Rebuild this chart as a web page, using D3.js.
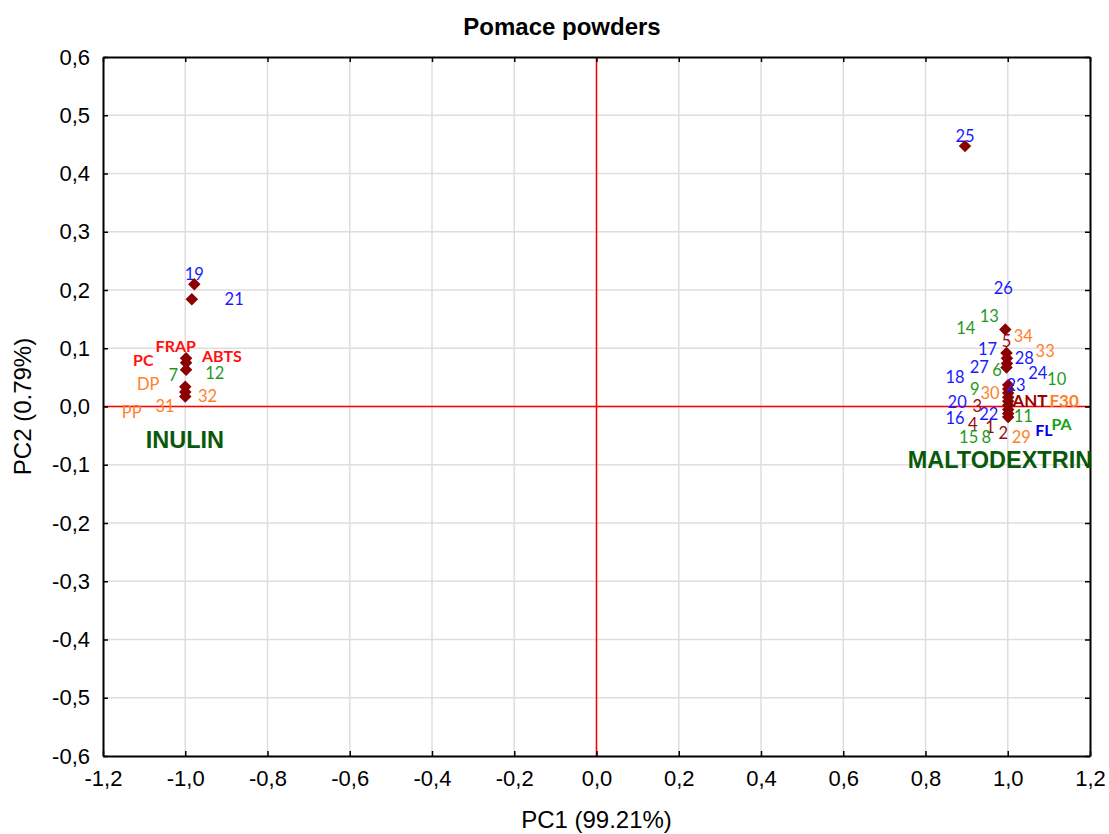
<!DOCTYPE html>
<html>
<head>
<meta charset="utf-8">
<script src="https://cdn.jsdelivr.net/npm/d3@7"></script>
<style>
  html, body { margin: 0; padding: 0; background: #fff; }
  svg { display: block; }
</style>
</head>
<body>
<svg id="chart" width="1109" height="834"></svg>
<script>
// PCA score plot of pomace powders (PC1 vs PC2)

const xTicks = [-1.2, -1.0, -0.8, -0.6, -0.4, -0.2, 0.0, 0.2, 0.4, 0.6, 0.8, 1.0, 1.2];
const yTicks = [-0.6, -0.5, -0.4, -0.3, -0.2, -0.1, 0.0, 0.1, 0.2, 0.3, 0.4, 0.5, 0.6];

// projected observations (diamond markers)
const markerPC1 = [-0.978, -0.984, -0.998, -0.998, -0.998, -1.000, -1.000, -1.000,
                   0.896, 0.994, 0.997, 0.998, 0.998, 0.997,
                   1.001, 1.001, 1.001, 1.001, 1.001, 1.001, 1.001, 1.001, 1.001];
const markerPC2 = [0.210, 0.184, 0.083, 0.075, 0.063, 0.034, 0.025, 0.017,
                   0.447, 0.132, 0.092, 0.083, 0.074, 0.067,
                   0.037, 0.030, 0.023, 0.016, 0.009, 0.002, -0.005, -0.012, -0.018];

// labels: sample numbers, variables and carrier groups
const labelText = ["19", "21", "FRAP", "PC", "ABTS", "7", "12", "DP", "32", "31", "PP", "INULIN",
                   "25", "26", "13", "14", "34", "5", "17", "33", "28", "27", "6", "18", "24", "10",
                   "23", "9", "30", "20", "3", "ANT", "F30", "16", "22", "11", "4", "1", "FL", "PA",
                   "15", "8", "2", "29", "MALTODEXTRIN"];
const labelPC1 = [-0.978, -0.881, -1.023, -1.102, -0.911, -1.029, -0.928, -1.090, -0.946, -1.049, -1.130, -1.001,
                  0.896, 0.989, 0.955, 0.898, 1.038, 0.997, 0.951, 1.091, 1.040, 0.931, 0.974, 0.872, 1.073, 1.119,
                  1.020, 0.920, 0.957, 0.877, 0.926, 1.054, 1.137, 0.872, 0.954, 1.038, 0.915, 0.957, 1.088, 1.131,
                  0.905, 0.948, 0.989, 1.033, 0.981];
const labelPC2 = [0.227, 0.184, 0.104, 0.080, 0.087, 0.054, 0.057, 0.038, 0.018, 0.001, -0.010, -0.057,
                  0.464, 0.204, 0.155, 0.135, 0.121, 0.112, 0.099, 0.095, 0.084, 0.067, 0.063, 0.050, 0.057, 0.047,
                  0.037, 0.030, 0.023, 0.008, 0.001, 0.011, 0.010, -0.019, -0.013, -0.017, -0.030, -0.035, -0.040, -0.030,
                  -0.052, -0.052, -0.046, -0.052, -0.092];
const labelKind = ["blue", "blue", "redB", "redB", "redB", "green", "green", "orange", "orange", "orange", "orange", "group",
                   "blue", "blue", "green", "green", "orange", "dark", "blue", "orange", "blue", "blue", "green", "blue", "blue", "green",
                   "blue", "green", "orange", "blue", "dark", "darkB", "orangeB", "blue", "blue", "green", "dark", "dark", "blueB", "greenB",
                   "green", "green", "dark", "orange", "group"];

const labelFont = "Lato, 'Open Sans', sans-serif";
const kindStyle = {
  blue:    { fill: "#1a1aff", weight: "normal", size: 16.5, family: labelFont },
  green:   { fill: "#1f9a1f", weight: "normal", size: 16.5, family: labelFont },
  orange:  { fill: "#ff7f2a", weight: "normal", size: 16.5, family: labelFont },
  dark:    { fill: "#9a0a0a", weight: "normal", size: 16.5, family: labelFont },
  redB:    { fill: "#ff1010", weight: "bold", size: 16, family: labelFont },
  darkB:   { fill: "#990000", weight: "bold", size: 17, family: labelFont },
  orangeB: { fill: "#ff7f27", weight: "bold", size: 17, family: labelFont },
  blueB:   { fill: "#0000ee", weight: "bold", size: 16, family: labelFont },
  greenB:  { fill: "#1aa01a", weight: "bold", size: 16, family: labelFont },
  group:   { fill: "#0a590a", weight: "bold", size: 23.5, family: "'Liberation Sans', Arial, sans-serif" }
};

const svg = d3.select("#chart");
const margin = { left: 103, right: 19, top: 57, bottom: 78 };
const W = 1109, H = 834;
const x = d3.scaleLinear().domain([-1.2, 1.2]).range([margin.left, W - margin.right]);
const y = d3.scaleLinear().domain([-0.6, 0.6]).range([H - margin.bottom, margin.top]);
const fmt = v => d3.format(".1f")(v).replace(".", ",").replace("−", "-");
const axisFont = "'Liberation Sans', Arial, sans-serif";

// grid
const grid = svg.append("g");
grid.selectAll("line.vx").data(xTicks.slice(1, -1)).join("line")
  .attr("x1", d => x(d)).attr("x2", d => x(d))
  .attr("y1", y(0.6)).attr("y2", y(-0.6))
  .attr("stroke", "#dedede").attr("stroke-width", 1.5);
grid.selectAll("line.hy").data(yTicks.slice(1, -1)).join("line")
  .attr("y1", d => y(d)).attr("y2", d => y(d))
  .attr("x1", x(-1.2)).attr("x2", x(1.2))
  .attr("stroke", "#dedede").attr("stroke-width", 1.5);

// zero reference lines
svg.append("line").attr("x1", x(0)).attr("x2", x(0)).attr("y1", y(0.6)).attr("y2", y(-0.6))
  .attr("stroke", "#ff0000").attr("stroke-width", 1.5);
svg.append("line").attr("x1", x(-1.2)).attr("x2", x(1.2)).attr("y1", y(0)).attr("y2", y(0))
  .attr("stroke", "#ff0000").attr("stroke-width", 1.5);

// axes with inward ticks on all four sides
const tickLen = 5;
const bottomAxis = d3.axisBottom(x).tickValues(xTicks).tickFormat(fmt).tickSizeInner(-tickLen).tickSizeOuter(0).tickPadding(14);
const topAxis = d3.axisTop(x).tickValues(xTicks).tickFormat("").tickSizeInner(-tickLen).tickSizeOuter(0);
const leftAxis = d3.axisLeft(y).tickValues(yTicks).tickFormat(fmt).tickSizeInner(-tickLen).tickSizeOuter(0).tickPadding(13);
const rightAxis = d3.axisRight(y).tickValues(yTicks).tickFormat("").tickSizeInner(-tickLen).tickSizeOuter(0);

function styleAxis(g) {
  g.select(".domain").attr("stroke", "#000").attr("stroke-width", 2);
  g.selectAll(".tick line").attr("stroke", "#000").attr("stroke-width", 1.5);
  g.selectAll(".tick text").attr("fill", "#000").style("font-family", axisFont).style("font-size", "22px");
}
svg.append("g").attr("transform", `translate(0,${y(-0.6)})`).call(bottomAxis).call(styleAxis);
svg.append("g").attr("transform", `translate(0,${y(0.6)})`).call(topAxis).call(styleAxis);
svg.append("g").attr("transform", `translate(${x(-1.2)},0)`).call(leftAxis).call(styleAxis);
svg.append("g").attr("transform", `translate(${x(1.2)},0)`).call(rightAxis).call(styleAxis);

// markers
const markers = markerPC1.map((v, i) => ({ pc1: v, pc2: markerPC2[i] }));
const diamond = d3.symbol().type(d3.symbolSquare).size(78);
svg.append("g").selectAll("path").data(markers).join("path")
  .attr("d", diamond)
  .attr("transform", d => `translate(${x(d.pc1)},${y(d.pc2)}) rotate(45)`)
  .attr("fill", "#8b0000");

// labels
const labels = labelText.map((t, i) => ({ text: t, pc1: labelPC1[i], pc2: labelPC2[i], kind: labelKind[i] }));
svg.append("g").selectAll("text").data(labels).join("text")
  .attr("x", d => x(d.pc1)).attr("y", d => y(d.pc2))
  .attr("text-anchor", "middle").attr("dominant-baseline", "central")
  .attr("fill", d => kindStyle[d.kind].fill)
  .style("font-family", d => kindStyle[d.kind].family)
  .style("font-weight", d => kindStyle[d.kind].weight)
  .style("font-size", d => kindStyle[d.kind].size + "px")
  .text(d => d.text);

// titles
svg.append("text").attr("x", 562).attr("y", 35).attr("text-anchor", "middle")
  .style("font-family", axisFont).style("font-weight", "bold").style("font-size", "24px")
  .text("Pomace powders");
svg.append("text").attr("x", x(0)).attr("y", 828).attr("text-anchor", "middle")
  .style("font-family", axisFont).style("font-size", "24px")
  .text("PC1 (99.21%)");
svg.append("text").attr("transform", `translate(31,${y(0)}) rotate(-90)`).attr("text-anchor", "middle")
  .style("font-family", axisFont).style("font-size", "24px")
  .text("PC2 (0.79%)");
</script>
</body>
</html>
